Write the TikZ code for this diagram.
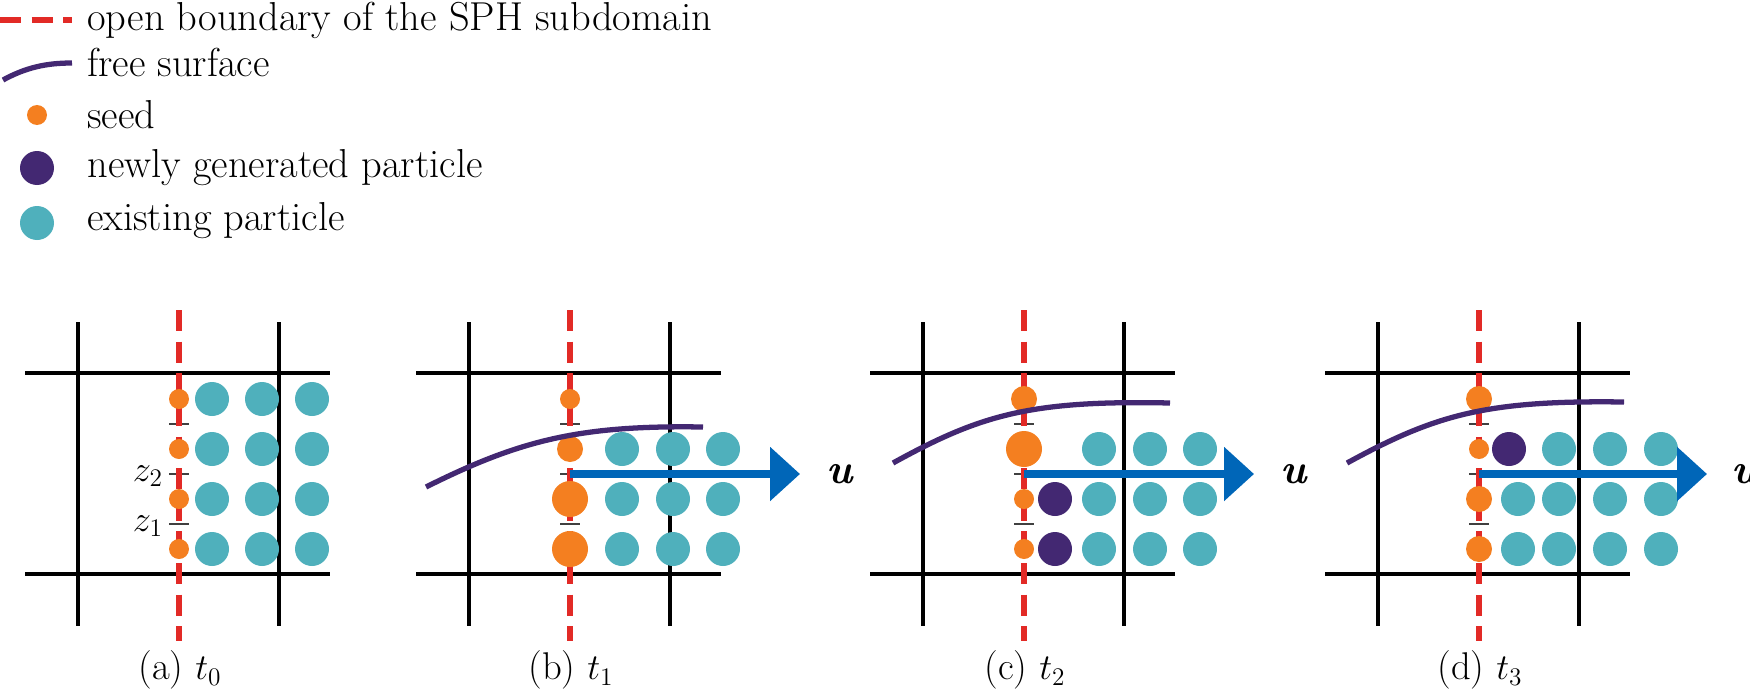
\documentclass[tikz,border=0pt]{standalone}
\usetikzlibrary{arrows.meta}
\definecolor{seedor}{HTML}{F47F20}
\definecolor{newpu}{HTML}{432872}
\definecolor{oldte}{HTML}{4FB0BC}
\definecolor{bndred}{HTML}{E22A26}
\definecolor{velbl}{HTML}{0066B8}
\tikzset{
  grid/.style={black,line width=2.2pt},
  bnd/.style={bndred,line width=3.2pt,dash pattern=on 12pt off 6pt},
  surf/.style={newpu,line width=3pt},
  tick/.style={black!75,line width=1.3pt},
  vel/.style={velbl,line width=4.5pt,-{Triangle[length=0.6cm,width=1.05cm]}},
  lbl/.style={font=\fontsize{23}{27}\selectfont,anchor=west,inner sep=0pt},
  ulbl/.style={font=\fontsize{24}{28}\selectfont\bfseries\itshape,anchor=west}
}
\begin{document}
\begin{tikzpicture}[x=0.02cm,y=-0.02cm]
\useasboundingbox (0,0) rectangle (1750,696);
% legend
\draw[bnd] (0,20) -- (72,20);
\node[lbl] (lb) at (87,20) {open boundary of the SPH subdomain};
\draw[surf] (3,80) .. controls (25,68) and (45,63) .. (72,63);
\node[lbl] (ls) at (87,62) {free surface};
\fill[seedor] (37,115) circle (10);
\node[lbl] (lsd) at (87,115) {seed};
\fill[newpu] (37,168) circle (17);
\node[lbl] (ln) at (87,168) {newly generated particle};
\fill[oldte] (37,223) circle (17);
\node[lbl] (le) at (87,221) {existing particle};

% grids and boundaries, offset per panel
\foreach \o/\n/\s in {0/a/0,391/b/1,845/c/2,1300/d/3}{
  \draw[grid] (25+\o,373) -- (330+\o,373);
  \draw[grid] (25+\o,574) -- (330+\o,574);
  \draw[grid] (78+\o,322) -- (78+\o,626);
  \draw[grid] (279+\o,322) -- (279+\o,626);
  \foreach \y in {424,474,524}
    \draw[tick] (169+\o,\y) -- (189+\o,\y);
  \draw[bnd] (179+\o,310) -- (179+\o,641);
  \node[font=\fontsize{22}{26}\selectfont] (cap\n) at (180+\o,670) {(\n) $t_{\s}$};
}

% (a) t0
\foreach \y in {399,449,499,549}{
  \fill[seedor] (179,\y) circle (10);
  \foreach \x in {212,262,312}
    \fill[oldte] (\x,\y) circle (17);
}
\node[font=\fontsize{22}{26}\selectfont,anchor=east] (z2) at (169,476) {$z_2$};
\node[font=\fontsize{22}{26}\selectfont,anchor=east] (z1) at (169,526) {$z_1$};

% (b) t1
\fill[seedor] (570,399) circle (10);
\fill[seedor] (570,449) circle (13);
\fill[seedor] (570,499) circle (18);
\fill[seedor] (570,549) circle (18);
\foreach \y in {449,499,549}
  \foreach \x in {622,673,723}
    \fill[oldte] (\x,\y) circle (17);
\draw[surf] (426,487) .. controls (520,440) and (580,425) .. (703,427);
\coordinate (ab) at (570,474);
\coordinate (bb) at (800,474);
\draw[vel] (ab) -- (bb);
\node[ulbl] (ub) at (820,474) {u};

% (c) t2
\fill[seedor] (1024,399) circle (13);
\fill[seedor] (1024,449) circle (18);
\fill[seedor] (1024,499) circle (10);
\fill[seedor] (1024,549) circle (10);
\fill[newpu] (1055,499) circle (17);
\fill[newpu] (1055,549) circle (17);
\foreach \y in {449,499,549}
  \foreach \x in {1099,1150,1200}
    \fill[oldte] (\x,\y) circle (17);
\draw[surf] (893,463) .. controls (980,415) and (1030,400) .. (1170,403);
\coordinate (ac) at (1024,474);
\coordinate (bc) at (1254,474);
\draw[vel] (ac) -- (bc);
\node[ulbl] (uc) at (1274,474) {u};

% (d) t3
\fill[seedor] (1479,399) circle (13);
\fill[seedor] (1479,449) circle (10);
\fill[seedor] (1479,499) circle (13);
\fill[seedor] (1479,549) circle (13);
\fill[newpu] (1509,449) circle (17);
\foreach \x in {1559,1610,1661}
  \fill[oldte] (\x,449) circle (17);
\foreach \y in {499,549}
  \foreach \x in {1518,1559,1610,1661}
    \fill[oldte] (\x,\y) circle (17);
\draw[surf] (1347,463) .. controls (1435,415) and (1485,400) .. (1624,402);
\coordinate (ad) at (1479,474);
\coordinate (bd) at (1707,474);
\draw[vel] (ad) -- (bd);
\node[ulbl] (ud) at (1725,474) {u};
\end{tikzpicture}
\end{document}
